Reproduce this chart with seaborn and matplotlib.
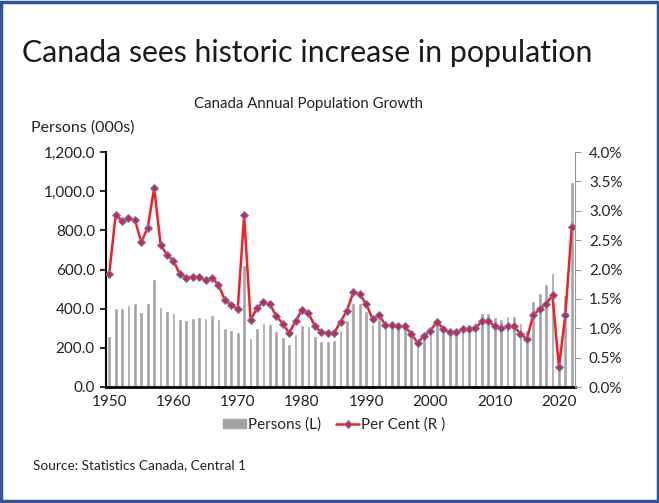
import numpy as np
import pandas as pd
import matplotlib
matplotlib.use("Agg")
import matplotlib.pyplot as plt
import seaborn as sns
from matplotlib.patches import Rectangle, Patch
from matplotlib.lines import Line2D
from matplotlib.ticker import FuncFormatter, MultipleLocator

years = list(range(1950, 2023))
persons = [260, 403, 403, 420, 428, 381, 430, 553, 408, 388,
           378, 347, 342, 354, 357, 352, 368, 349, 303, 291,
           279, 623, 252, 300, 327, 322, 284, 257, 221, 271,
           317, 311, 260, 235, 237, 239, 289, 342, 427, 427,
           388, 322, 347, 315, 315, 315, 308, 281, 231, 249,
           274, 325, 298, 285, 285, 317, 320, 334, 376, 380,
           359, 349, 364, 364, 325, 291, 441, 482, 526, 581,
           150, 470, 1048]
per_cent = [1.92, 2.93, 2.83, 2.87, 2.84, 2.47, 2.71, 3.39, 2.42, 2.25,
            2.15, 1.92, 1.86, 1.88, 1.87, 1.82, 1.86, 1.74, 1.48, 1.40,
            1.32, 2.92, 1.14, 1.34, 1.45, 1.41, 1.21, 1.08, 0.92, 1.12,
            1.31, 1.26, 1.04, 0.93, 0.92, 0.92, 1.11, 1.30, 1.61, 1.58,
            1.41, 1.16, 1.23, 1.05, 1.05, 1.04, 1.03, 0.91, 0.75, 0.87,
            0.96, 1.11, 0.99, 0.93, 0.93, 0.98, 0.98, 1.00, 1.12, 1.12,
            1.04, 1.00, 1.04, 1.03, 0.91, 0.81, 1.23, 1.32, 1.42, 1.56,
            0.34, 1.23, 2.72]
year_labels = [1950, 1960, 1970, 1980, 1990, 2000, 2010, 2020]

df = pd.DataFrame({"year": years, "persons": persons, "pct": per_cent})

sns.set_style("white")
FONT = ["Lato", "DejaVu Sans"]
plt.rcParams["font.family"] = FONT

BAR = "#A3A3A6"
RED = "#F41E24"
MFC = "#CC2A3C"
MEC = "#6A7CC8"

fig = plt.figure(figsize=(6.59, 5.03), dpi=100)
ax = fig.add_axes([106 / 659, 1 - 387 / 503, (575 - 106) / 659, (387 - 152) / 503])

sns.barplot(data=df, x="year", y="persons", native_scale=True, color=BAR,
            width=0.58, ax=ax, saturation=1)
ax.set_ylim(0, 1200)
ax.set_xlim(1949.5, 2022.5)
ax.set_xlabel("")
ax.set_ylabel("")
ax.yaxis.set_major_locator(MultipleLocator(200))
ax.yaxis.set_major_formatter(FuncFormatter(lambda v, p: f"{v:,.1f}"))
ax.set_xticks(year_labels)
ax.set_xticklabels([str(y) for y in year_labels])
ax.set_xticks(np.arange(1949.5, 2023.0, 1.0), minor=True)
ax.tick_params(axis="x", which="major", length=0, pad=6, labelsize=11, colors="#222222")
ax.tick_params(axis="x", which="minor", length=4, width=1.2, color="black", direction="out")
ax.tick_params(axis="y", which="major", length=4, width=1.2, color="black",
               direction="out", labelsize=11, labelcolor="#222222", pad=4)
for s in ["top", "right"]:
    ax.spines[s].set_visible(False)
ax.spines["left"].set_color("black")
ax.spines["left"].set_linewidth(1.5)
ax.spines["bottom"].set_color("black")
ax.spines["bottom"].set_linewidth(2)

ax2 = ax.twinx()
sns.lineplot(data=df, x="year", y="pct", ax=ax2, color=RED, linewidth=1.8,
             marker="D", markersize=4.2, markerfacecolor=MFC, markeredgecolor=MEC,
             markeredgewidth=0.7)
ax2.set_ylim(0, 4)
ax2.set_xlim(1949.5, 2022.5)
ax2.set_ylabel("")
ax2.set_xlabel("")
ax2.yaxis.set_major_locator(MultipleLocator(0.5))
ax2.yaxis.set_major_formatter(FuncFormatter(lambda v, p: f"{v:.1f}%"))
ax2.tick_params(axis="y", which="major", length=4, width=0.8, color="#999999",
                direction="out", labelsize=11, labelcolor="#222222", pad=6)
for s in ["top", "left", "bottom"]:
    ax2.spines[s].set_visible(False)
ax2.spines["right"].set_color("#999999")
ax2.spines["right"].set_linewidth(0.8)

fig.text(22 / 659, 1 - 62 / 503, "Canada sees historic increase in population",
         fontsize=21.8, color="#1a1a1a", ha="left", va="baseline")
fig.text(309 / 659, 1 - 104 / 503, "Canada Annual Population Growth",
         fontsize=10.8, color="#222222", ha="center", va="center")
fig.text(31 / 659, 1 - 128 / 503, "Persons (000s)",
         fontsize=11.5, color="#222222", ha="left", va="center")
fig.text(33 / 659, 1 - 465 / 503, "Source: Statistics Canada, Central 1",
         fontsize=9.8, color="#222222", ha="left", va="center")

handles = [Patch(facecolor=BAR, edgecolor=BAR),
           Line2D([0], [0], color=RED, linewidth=1.8, marker="D", markersize=4.2,
                  markerfacecolor=MFC, markeredgecolor=MEC, markeredgewidth=0.7)]
fig.legend(handles, ["Persons (L)", "Per Cent (R )"], loc="center",
           bbox_to_anchor=(334 / 659, 1 - 425 / 503), ncol=2, frameon=False,
           fontsize=11, handlelength=1.5, handleheight=0.55, handletextpad=0.1,
           columnspacing=1.0)

fig.patches.append(Rectangle((0.002, 0.003), 0.996, 0.994, transform=fig.transFigure,
                             fill=False, edgecolor="#2F5597", linewidth=2.5))

fig.savefig("out.png", dpi=100)
